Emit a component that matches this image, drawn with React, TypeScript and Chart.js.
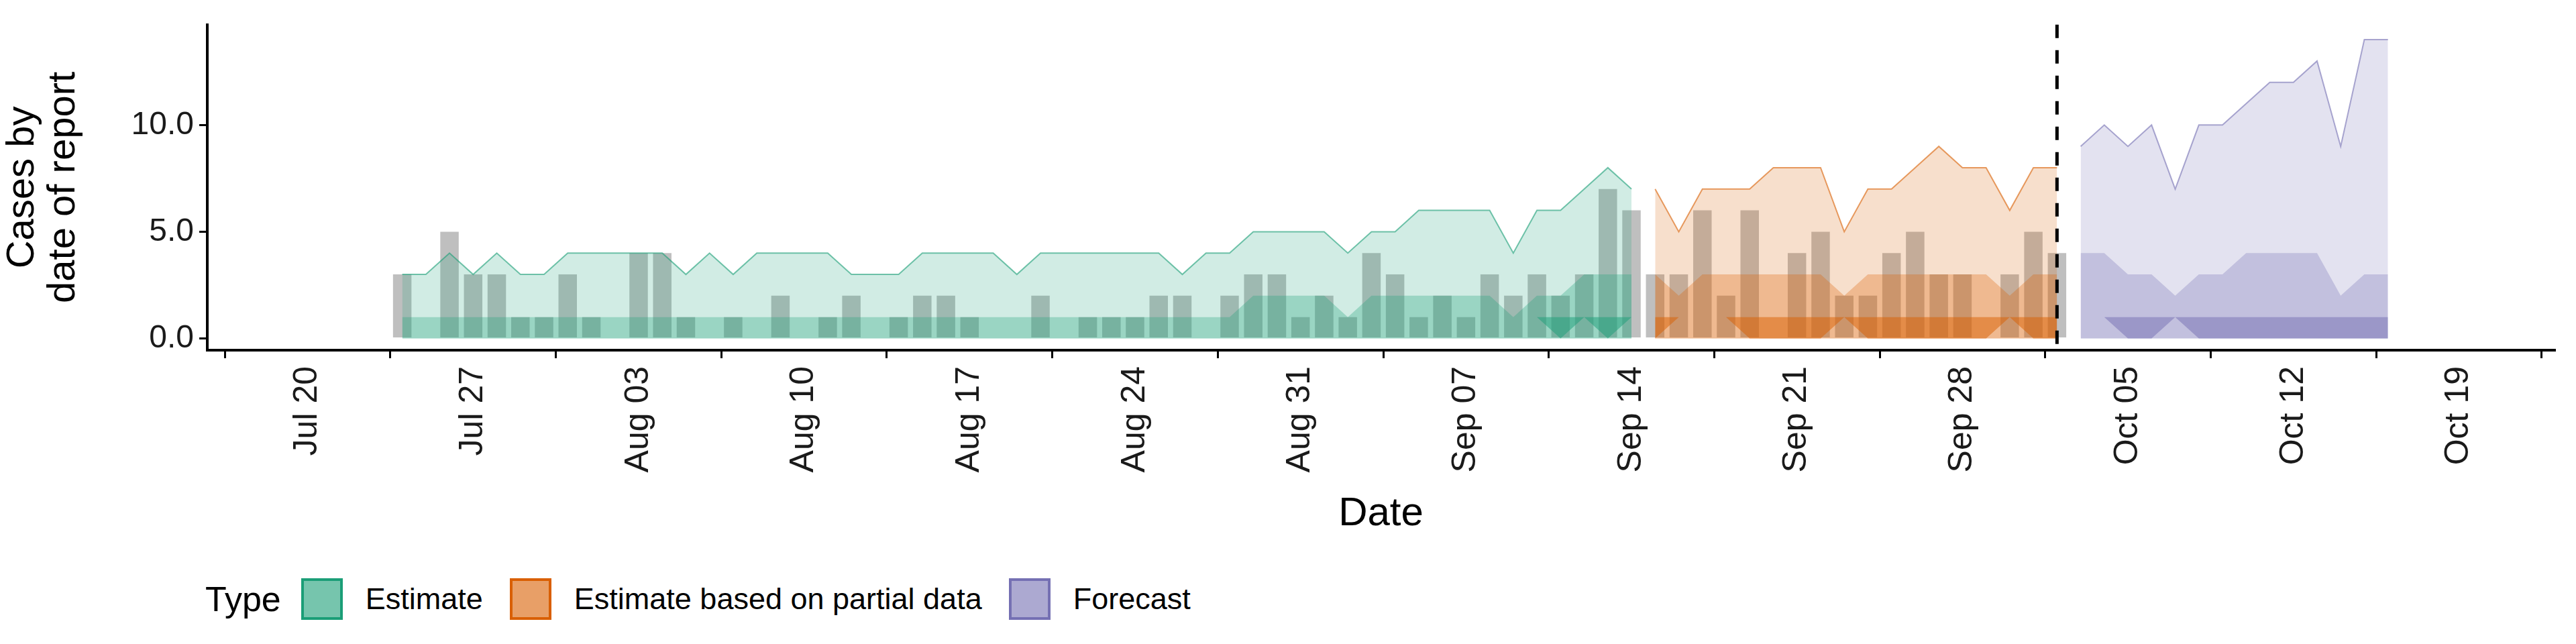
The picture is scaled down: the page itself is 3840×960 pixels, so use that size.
import React, { useEffect, useRef } from 'react';
import { Chart, registerables } from 'chart.js';

Chart.register(...registerables);

// day 0 = Jul 20
const tickDays = [0, 7, 14, 21, 28, 35, 42, 49, 56, 63, 70, 77, 84, 91];
const tickLabels = ['Jul 20', 'Jul 27', 'Aug 03', 'Aug 10', 'Aug 17', 'Aug 24', 'Aug 31', 'Sep 07', 'Sep 14', 'Sep 21', 'Sep 28', 'Oct 05', 'Oct 12', 'Oct 19'];

const reportedStart = 4; // Jul 24
const reported = [
  3, 0, 5, 3, 3, 1, 1, 3, 1, 0, 4, 4, 1, 0, 1, 0, 2, 0, 1, 2, 0, 1, 2, 2, 1, 0, 0, 2, 0, 1,
  1, 1, 2, 2, 0, 2, 3, 3, 1, 2, 1, 4, 3, 1, 2, 1, 3, 2, 3, 2, 3, 7, 6, 3, 3, 6, 2, 6, 0, 4, 5, 2, 2, 4, 5,
  3, 3, 0, 3, 5, 4,
];

const estimateStart = 4; // Jul 24 - Sep 14
const estUpper90 = [
  3, 3, 4, 3, 4, 3, 3, 4, 4, 4, 4, 4, 3, 4, 3, 4, 4, 4, 4, 3, 3, 3, 4, 4, 4, 4, 3, 4, 4, 4,
  4, 4, 4, 3, 4, 4, 5, 5, 5, 5, 4, 5, 5, 6, 6, 6, 6, 4, 6, 6, 7, 8, 7,
];
const estUpper50 = [
  1, 1, 1, 1, 1, 1, 1, 1, 1, 1, 1, 1, 1, 1, 1, 1, 1, 1, 1, 1, 1, 1, 1, 1, 1, 1, 1, 1, 1, 1, 1, 1, 1, 1, 1, 1,
  2, 2, 2, 2, 1, 2, 2, 2, 2, 2, 2, 1, 2, 2, 3, 3, 3,
];
const estLower20 = [
  1, 1, 1, 1, 1, 1, 1, 1, 1, 1, 1, 1, 1, 1, 1, 1, 1, 1, 1, 1, 1, 1, 1, 1, 1, 1, 1, 1, 1, 1,
  1, 1, 1, 1, 1, 1, 1, 1, 1, 1, 1, 1, 1, 1, 1, 1, 1, 1, 1, 0, 1, 0, 1,
];
const estUpper20 = estLower20.map(() => 1);

const partialStart = 57; // Sep 15 - Oct 2
const partUpper90 = [7, 5, 7, 7, 7, 8, 8, 8, 5, 7, 7, 8, 9, 8, 8, 6, 8, 8];
const partUpper50 = [3, 2, 3, 3, 3, 3, 3, 3, 2, 3, 3, 3, 3, 3, 3, 2, 3, 3];
const partLower20 = [0, 1, 1, 1, 0, 0, 0, 0, 1, 0, 0, 0, 0, 0, 0, 1, 0, 0];
const partUpper20 = partLower20.map(() => 1);

const forecastStart = 75; // Oct 3 - Oct 16
const fcUpper90 = [9, 10, 9, 10, 7, 10, 10, 11, 12, 12, 13, 9, 14, 14];
const fcUpper50 = [4, 4, 3, 3, 2, 3, 3, 4, 4, 4, 4, 2, 3, 3];
const fcLower20 = [1, 1, 0, 0, 1, 0, 0, 0, 0, 0, 0, 0, 0, 0];
const fcUpper20 = fcLower20.map(() => 1);

const forecastDate = 74; // Oct 2

const types = [
  { name: 'Estimate', rgb: '27,158,119' },
  { name: 'Estimate based on partial data', rgb: '217,95,2' },
  { name: 'Forecast', rgb: '117,112,179' },
];

const pts = (start: number, vals: number[]) => vals.map((y, i) => ({ x: start + i, y }));

const band = (start: number, u90: number[], u50: number[], l20: number[], u20: number[], rgb: string) => [
  {
    type: 'line', data: pts(start, u90), fill: { value: 0 }, backgroundColor: `rgba(${rgb},0.2)`,
    borderColor: `rgba(${rgb},0.6)`, borderWidth: 2, pointRadius: 0, order: 5,
  },
  {
    type: 'line', data: pts(start, u50), fill: { value: 0 }, backgroundColor: `rgba(${rgb},0.3)`,
    borderWidth: 0, pointRadius: 0, order: 4,
  },
  {
    type: 'line', data: pts(start, l20), fill: false, borderWidth: 0, pointRadius: 0, order: 3,
  },
  {
    type: 'line', data: pts(start, u20), fill: '-1', backgroundColor: `rgba(${rgb},0.5)`,
    borderWidth: 0, pointRadius: 0, order: 3,
  },
];

const font = '"Liberation Sans", Arial, sans-serif';

// dashed forecast line plus the rotated x tick labels and x title
const overlay = {
  id: 'overlay',
  afterDatasetsDraw(chart: any) {
    const { ctx, chartArea, scales } = chart;
    const x = scales.x.getPixelForValue(forecastDate);
    ctx.save();
    ctx.strokeStyle = '#000';
    ctx.lineWidth = 5;
    ctx.setLineDash([20, 18]);
    ctx.beginPath();
    ctx.moveTo(x, chartArea.top);
    ctx.lineTo(x, chartArea.bottom);
    ctx.stroke();
    ctx.restore();
  },
  afterDraw(chart: any) {
    const { ctx, chartArea, scales } = chart;
    ctx.save();
    ctx.fillStyle = '#1a1a1a';
    ctx.font = `50px ${font}`;
    ctx.textAlign = 'right';
    ctx.textBaseline = 'middle';
    tickDays.forEach((d, i) => {
      const x = scales.x.getPixelForValue(d);
      ctx.save();
      ctx.translate(x, chartArea.bottom + 24);
      ctx.rotate(-Math.PI / 2);
      ctx.fillText(tickLabels[i], 0, 0);
      ctx.restore();
    });
    ctx.fillStyle = '#000';
    ctx.font = `60px ${font}`;
    ctx.textAlign = 'center';
    ctx.fillText('Date', (chartArea.left + chartArea.right) / 2, 766);
    ctx.restore();
  },
};

const App = () => {
  const chartRef = useRef<HTMLCanvasElement | null>(null);

  useEffect(() => {
    document.body.style.margin = '0';
    const ctx = chartRef.current?.getContext('2d');
    if (!ctx) return;
    const chart = new Chart(ctx, {
      type: 'bar',
      data: {
        datasets: [
          {
            type: 'bar', data: pts(reportedStart, reported), backgroundColor: 'rgba(127,127,127,0.5)',
            barPercentage: 0.78, categoryPercentage: 1, order: 10,
          },
          ...band(estimateStart, estUpper90, estUpper50, estLower20, estUpper20, types[0].rgb),
          ...band(partialStart, partUpper90, partUpper50, partLower20, partUpper20, types[1].rgb),
          ...band(forecastStart, fcUpper90, fcUpper50, fcLower20, fcUpper20, types[2].rgb),
        ] as any,
      },
      options: {
        animation: false,
        responsive: false,
        layout: { padding: { top: 29, right: 32, left: 0, bottom: 0 } },
        plugins: { legend: { display: false }, tooltip: { enabled: false } },
        elements: { line: { tension: 0 } },
        scales: {
          x: {
            type: 'linear', min: -0.7, max: 91.5,
            afterBuildTicks: (axis: any) => { axis.ticks = tickDays.map((v) => ({ value: v })); },
            afterFit: (axis: any) => { axis.height = 800 - 522; },
            ticks: { display: false },
            grid: { drawOnChartArea: false, drawTicks: true, tickLength: 12, color: '#000', lineWidth: 3 },
            border: { color: '#000', width: 4 },
          },
          y: {
            min: -0.55, max: 14.7,
            afterBuildTicks: (axis: any) => { axis.ticks = [0, 5, 10].map((v) => ({ value: v })); },
            afterFit: (axis: any) => { axis.width = 309; },
            ticks: {
              callback: (v: any) => Number(v).toFixed(1), color: '#1a1a1a', padding: 8,
              font: { family: font, size: 48 },
            },
            grid: { drawOnChartArea: false, drawTicks: true, tickLength: 12, color: '#000', lineWidth: 3 },
            border: { color: '#000', width: 4 },
            title: {
              display: true, text: ['Cases by', 'date of report'], color: '#000',
              font: { family: font, size: 58, lineHeight: 1.05 }, padding: { bottom: 10 },
            },
          },
        },
      } as any,
      plugins: [overlay],
    });
    return () => chart.destroy();
  }, []);

  return (
    <div style={{ width: 3840, height: 960, fontFamily: font, background: '#fff' }}>
      <canvas ref={chartRef} width={3840} height={800} style={{ display: 'block' }} />
      <div style={{ display: 'flex', alignItems: 'center', paddingLeft: 306, marginTop: 62 }}>
        <span style={{ fontSize: 52, marginRight: 30 }}>Type</span>
        {types.map((t) => (
          <span key={t.name} style={{ display: 'flex', alignItems: 'center', marginRight: 40 }}>
            <span style={{
              width: 62, height: 62, boxSizing: 'border-box', border: `4px solid rgb(${t.rgb})`,
              background: `rgba(${t.rgb},0.6)`, marginRight: 34,
            }} />
            <span style={{ fontSize: 45 }}>{t.name}</span>
          </span>
        ))}
      </div>
    </div>
  );
};

export default App;
